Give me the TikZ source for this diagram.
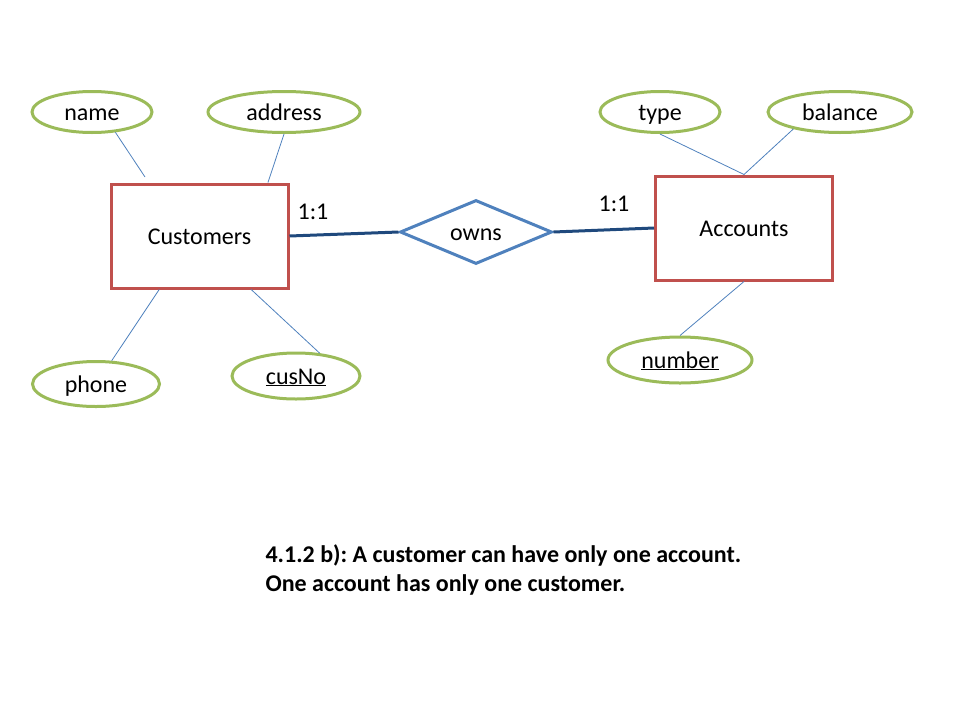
\documentclass[tikz,border=0pt]{standalone}
\usepackage{fontspec}
\setmainfont{Carlito}
\usetikzlibrary{shapes.geometric}
\definecolor{entred}{HTML}{C0504D}
\definecolor{attgreen}{HTML}{9BBB59}
\definecolor{relblue}{HTML}{4F81BD}
\definecolor{linkblue}{HTML}{1F497D}
\frenchspacing
\begin{document}
\begin{tikzpicture}[x=1pt,y=-1pt,
    every node/.style={font=\fontsize{24}{29}\selectfont},
    box text/.style={text height=19pt,text depth=3pt},
    entity/.style={box text,draw=entred,line width=3pt,minimum width=177pt,minimum height=104pt,inner sep=0pt},
    attrib/.style={box text,draw=attgreen,ellipse,line width=3pt,minimum height=41pt,inner sep=0pt},
    relation/.style={text height=16pt,text depth=0pt,draw=relblue,diamond,aspect=2.4,line width=3pt,minimum width=152pt,minimum height=64pt,inner sep=0pt},
    attline/.style={draw=relblue,line width=0.8pt},
    relline/.style={draw=linkblue,line width=3pt}]
            \useasboundingbox (0,0) rectangle (960,720);

            % entities and relationship
            \node[entity] (customers) at (199.5,236) {Customers};
            \node[entity] (accounts) at (744,228) {Accounts};
            \node[relation] (owns) at (476,232) {owns};

            % attributes
            \node[attrib,minimum width=120pt] (name) at (92,112) {name};
            \node[attrib,minimum width=152pt] (address) at (284,112) {address};
            \node[attrib,minimum width=127pt,minimum height=45pt] (phone) at (96,384) {phone};
            \node[attrib,minimum width=128pt,minimum height=46pt] (cusno) at (296,376) {\underline{cusNo}};
            \node[attrib,minimum width=120pt] (type) at (660,112) {type};
            \node[attrib,minimum width=144pt] (balance) at (840,112) {balance};
            \node[attrib,minimum width=144pt,minimum height=46pt] (number) at (680,360) {\underline{number}};

            \coordinate (name end) at (145,177);

             %attribute lines
                 \draw[attline] (name.-41) -- (name end);
                 \draw[attline] (address.south) -- (customers.38);
                 \draw[attline] (phone.56) -- (customers.-127);
                 \draw[attline] (cusno.44) -- (customers.-46.4);
                 \draw[attline] (type.south) -- (accounts.north);
                 \draw[attline] (balance.200) -- (accounts.north);
                 \draw[attline] (number.north) -- (accounts.south);

             %relationship lines
                 \draw[relline] (customers.east) -- (owns.west);
                 \draw[relline] (owns.east) -- (accounts.west);
                 \node (card left) at (313,212) {1:1};
                 \node (card right) at (614,204) {1:1};

            \node[anchor=west,align=left,font=\fontsize{24}{29}\selectfont\bfseries] (caption) at (262,569.5)
                {4.1.2 b): A customer can have only one account.\\One account has only one customer.};
\end{tikzpicture}
\end{document}
